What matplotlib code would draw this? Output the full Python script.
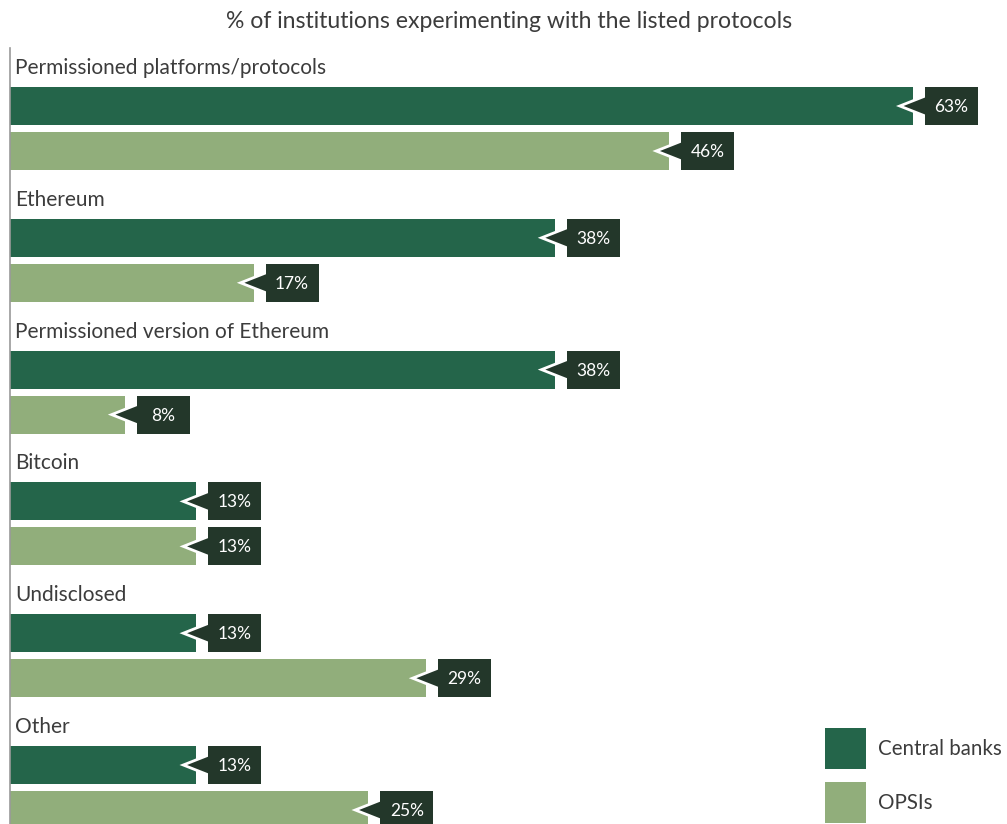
import matplotlib.pyplot as plt
from matplotlib.patches import Rectangle, Polygon

plt.rcParams['font.family'] = ['Lato', 'DejaVu Sans']

# data
categories = ['Permissioned platforms/protocols', 'Ethereum',
              'Permissioned version of Ethereum', 'Bitcoin', 'Undisclosed', 'Other']
central_banks = [63, 38, 38, 13, 13, 13]
opsis = [46, 17, 8, 13, 29, 25]
series_names = ['Central banks', 'OPSIs']

c_cb = '#24654a'
c_op = '#91ae7b'
c_box = '#23372a'
c_text = '#3c3c3c'

W, H = 1007, 824
fig = plt.figure(figsize=(W / 100, H / 100), dpi=100)
ax = fig.add_axes([10 / W, 0, 1 - 10 / W, (H - 48) / H])

px = 14.33  # pixels per percentage point
ax.set_xlim(0, (W - 10) / px)
ax.set_ylim(H, 48)

step = 131.8
bar_h = 38


def callout(val, yc):
    tip = val - 13 / px
    left = val + 12 / px
    bw = 53 / px
    tri = Polygon([[tip, yc], [left + 0.2, yc - 11], [left + 0.2, yc + 11]],
                  closed=True, facecolor=c_box, edgecolor='white', lw=2, zorder=3)
    ax.add_patch(tri)
    ax.add_patch(Rectangle((left, yc - bar_h / 2), bw, bar_h,
                           facecolor=c_box, edgecolor='none', zorder=4))
    ax.text(left + bw / 2, yc + 1, f'{val}%', color='white', fontsize=12.5,
            ha='center', va='center', zorder=5)


for i, cat in enumerate(categories):
    y0 = 68 + step * i
    ax.text(5 / px, y0, cat, fontsize=15, color=c_text, va='center', ha='left')
    y1 = y0 + 38
    y2 = y0 + 83
    ax.barh(y1, central_banks[i], height=bar_h, color=c_cb, zorder=2)
    ax.barh(y2, opsis[i], height=bar_h, color=c_op, zorder=2)
    callout(central_banks[i], y1)
    callout(opsis[i], y2)

for s in ['top', 'right', 'bottom']:
    ax.spines[s].set_visible(False)
ax.spines['left'].set_color('#9a9a9a')
ax.spines['left'].set_linewidth(1.2)
ax.set_xticks([])
ax.set_yticks([])

fig.text(509 / W, 1 - 22 / H, '% of institutions experimenting with the listed protocols',
         fontsize=16.6, color=c_text, ha='center', va='center')

# legend
for name, col, ytop in zip(series_names, [c_cb, c_op], [728, 782]):
    fig.add_artist(Rectangle((825 / W, 1 - (ytop + 41) / H), 41 / W, 41 / H,
                             transform=fig.transFigure, facecolor=col, edgecolor='none'))
    fig.text(878 / W, 1 - (ytop + 21) / H, name, fontsize=14.8, color=c_text,
             ha='left', va='center')

fig.savefig('out.png', dpi=100)
